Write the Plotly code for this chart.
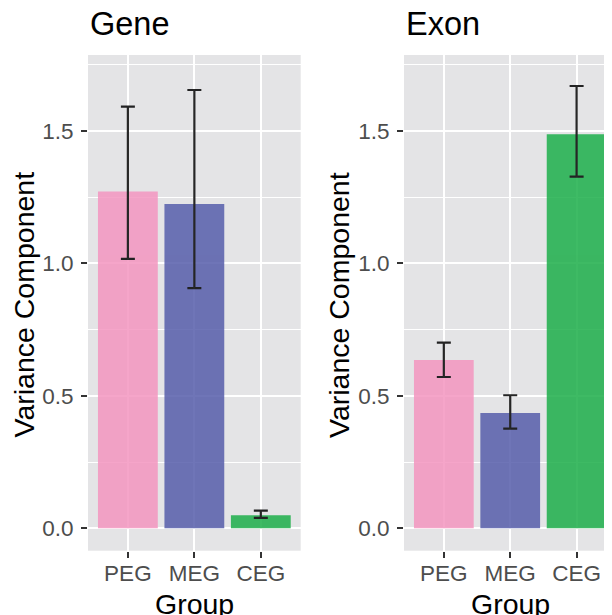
import plotly.graph_objects as go

groups = ["PEG", "MEG", "CEG"]
gene_values = [1.271, 1.224, 0.049]
gene_upper = [1.591, 1.654, 0.067]
gene_lower = [1.017, 0.906, 0.039]
exon_values = [0.635, 0.435, 1.487]
exon_upper = [0.701, 0.502, 1.669]
exon_lower = [0.571, 0.376, 1.327]
bar_colors = ["rgb(244,150,192)", "rgb(86,94,171)", "rgb(29,175,74)"]
y_ticks = [0.0, 0.5, 1.0, 1.5]
y_tick_labels = ["0.0", "0.5", "1.0", "1.5"]

# the page body has an 8px margin; the figure is sized so it ends at the window edge
OFF = 8
W, H = 612 - OFF, 615 - OFF
FONT = "Liberation Sans, Arial, Helvetica, sans-serif"
PANEL_BG = "#E4E4E6"

fig = go.Figure()

def add_panel(vals, up, lo, xa, ya):
    fig.add_trace(go.Bar(
        x=groups, y=vals, width=0.9,
        marker=dict(color=bar_colors, line=dict(width=0)),
        opacity=0.85,
        error_y=dict(type="data", symmetric=False,
                     array=[u - v for u, v in zip(up, vals)],
                     arrayminus=[v - l for v, l in zip(vals, lo)],
                     color="black", thickness=2.2, width=7),
        xaxis=xa, yaxis=ya, showlegend=False, hoverinfo="skip"))

add_panel(gene_values, gene_upper, gene_lower, "x", "y")
add_panel(exon_values, exon_upper, exon_lower, "x2", "y2")

def px(x):
    return (x - OFF) / W

def py(y):
    return 1 - (y - OFF) / H

ydom = [py(550.7), py(55)]
xaxis_common = dict(
    type="category", categoryorder="array", categoryarray=groups,
    showgrid=True, gridcolor="white", gridwidth=2.4,
    ticks="outside", ticklen=6, tickwidth=2.2, tickcolor="#333333",
    tickfont=dict(family=FONT, size=22.5, color="#4D4D4D"),
    ticklabelstandoff=-4,
    showline=False, zeroline=False, fixedrange=True,
)
yaxis_common = dict(
    range=[-0.0845, 1.786],
    tickvals=y_ticks, ticktext=y_tick_labels,
    showgrid=True, gridcolor="white", gridwidth=2.4,
    minor=dict(dtick=0.25, tick0=0.25, showgrid=True, gridcolor="white", gridwidth=1.2, ticks=""),
    ticks="outside", ticklen=6, tickwidth=2.2, tickcolor="#333333",
    tickfont=dict(family=FONT, size=22.5, color="#4D4D4D"),
    ticklabelstandoff=3,
    showline=False, zeroline=False, fixedrange=True,
)

fig.update_layout(
    width=W, height=H,
    margin=dict(l=0, r=0, t=0, b=0),
    paper_bgcolor="white",
    plot_bgcolor=PANEL_BG,
    xaxis=dict(domain=[px(88), px(300.7)], range=[-0.6, 2.6], anchor="y", **xaxis_common),
    yaxis=dict(domain=ydom, anchor="x", **yaxis_common),
    xaxis2=dict(domain=[px(404), 1.0], range=[-0.6, 2.533], anchor="y2", **xaxis_common),
    yaxis2=dict(domain=ydom, anchor="x2", **yaxis_common),
    font=dict(family=FONT),
)

annotations = []
for name, x0 in [("Gene", 88), ("Exon", 404)]:
    annotations.append(dict(text=name, x=px(x0), y=py(23.5), xref="paper", yref="paper",
                            xanchor="left", yanchor="middle", showarrow=False,
                            font=dict(family=FONT, size=32.5, color="black")))
for xc in [23.5, 339]:
    annotations.append(dict(text="Variance Component", x=px(xc), y=py(305), xref="paper", yref="paper",
                            xanchor="center", yanchor="middle", textangle=-90, showarrow=False,
                            font=dict(family=FONT, size=28.5, color="black")))
for xc in [194.4, 510.4]:
    annotations.append(dict(text="Group", x=px(xc), y=py(586), xref="paper", yref="paper",
                            xanchor="center", yanchor="top", showarrow=False,
                            font=dict(family=FONT, size=28.5, color="black")))
fig.update_layout(annotations=annotations)

fig.write_html("out.html")
